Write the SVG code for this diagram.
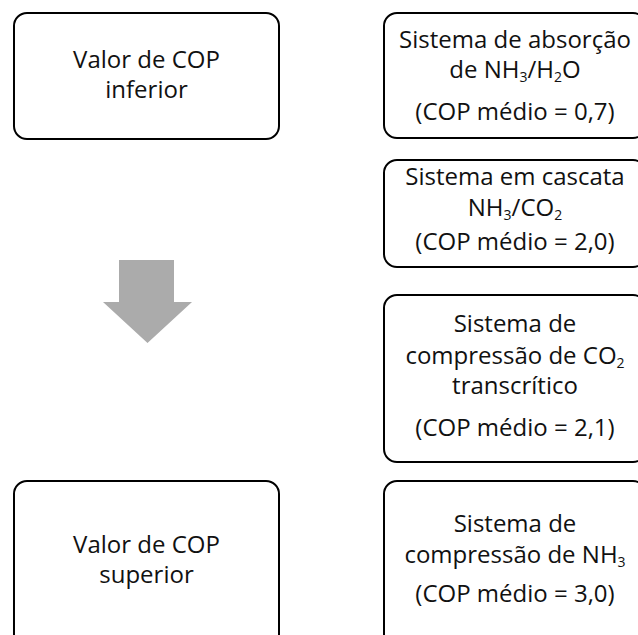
<svg xmlns="http://www.w3.org/2000/svg" width="638" height="635" viewBox="0 0 638 635">
<style>
.box{fill:#fff;stroke:#000;stroke-width:2}
.t{font-family:"Open Sans","DejaVu Sans",sans-serif;font-size:24px;fill:#111;text-anchor:middle}
.s{font-size:14px}
</style>
<rect width="638" height="635" fill="#fff"/>
<g id="inferior">
<rect class="box" x="14" y="13" width="265" height="126" rx="13"/>
<text class="t" x="146.5" y="68">Valor de COP</text>
<text class="t" x="146.5" y="98">inferior</text>
</g>
<g id="superior">
<rect class="box" x="14" y="481" width="265" height="175" rx="13"/>
<text class="t" x="146.5" y="553">Valor de COP</text>
<text class="t" x="146.5" y="583">superior</text>
</g>
<g id="connectors">
<polygon points="119,260 174,260 174,302 192,302 147.5,343 103,302 119,302" fill="#ababab"/>
</g>
<g id="absorcao">
<rect class="box" x="384" y="13" width="262" height="125" rx="13"/>
<text class="t" x="515" y="48">Sistema de absorção</text>
<text class="t" x="515" y="78">de NH<tspan class="s" dy="4">3</tspan><tspan dy="-4">/H</tspan><tspan class="s" dy="4">2</tspan><tspan dy="-4">O</tspan></text>
<text class="t" x="515" y="120">(COP médio = 0,7)</text>
</g>
<g id="cascata">
<rect class="box" x="384" y="160" width="262" height="107" rx="13"/>
<text class="t" x="515" y="185">Sistema em cascata</text>
<text class="t" x="515" y="216">NH<tspan class="s" dy="4">3</tspan><tspan dy="-4">/CO</tspan><tspan class="s" dy="4">2</tspan></text>
<text class="t" x="515" y="250">(COP médio = 2,0)</text>
</g>
<g id="co2">
<rect class="box" x="384" y="295" width="262" height="167" rx="13"/>
<text class="t" x="515" y="332">Sistema de</text>
<text class="t" x="515" y="364">compressão de CO<tspan class="s" dy="4">2</tspan></text>
<text class="t" x="515" y="394">transcrítico</text>
<text class="t" x="515" y="436">(COP médio = 2,1)</text>
</g>
<g id="nh3">
<rect class="box" x="384" y="481" width="262" height="175" rx="13"/>
<text class="t" x="515" y="532">Sistema de</text>
<text class="t" x="515" y="563">compressão de NH<tspan class="s" dy="4">3</tspan></text>
<text class="t" x="515" y="602">(COP médio = 3,0)</text>
</g>
</svg>
